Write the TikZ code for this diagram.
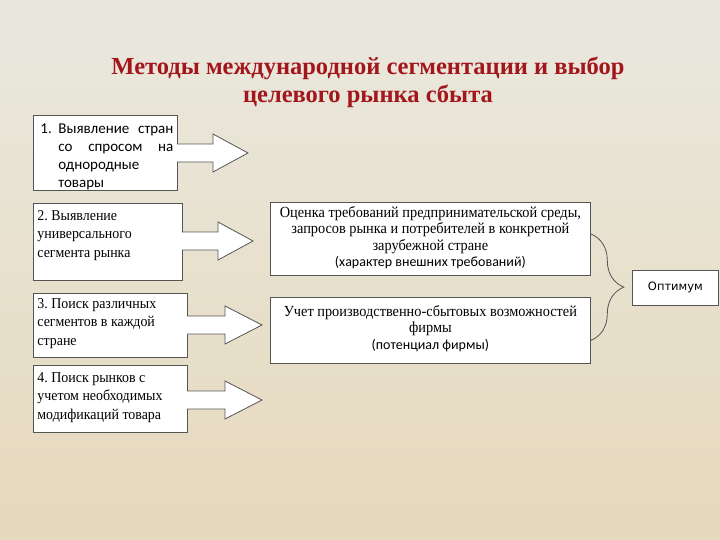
\documentclass[tikz,border=0pt]{standalone}
\usepackage{fontspec}
\setmainfont{Liberation Serif}
\newfontfamily\narrowserif[FakeStretch=0.93]{Liberation Serif}
\newfontfamily\calibfont{Carlito}
\newfontfamily\optfont{DejaVu Sans}
\usetikzlibrary{calc,decorations.pathreplacing}
\definecolor{titlered}{HTML}{A3161C}
\definecolor{bgtop}{HTML}{E9E8DF}
\definecolor{bgmid}{HTML}{F5E7C8}
\definecolor{bgbot}{HTML}{E6D9BC}
\definecolor{framegray}{HTML}{555555}

\begin{document}
\begin{tikzpicture}[x=1pt, y=-1pt]

      \tikzstyle{box_style} = [draw=framegray, fill=white, line width=0.8pt, inner sep=4pt, anchor=north west]
      \tikzstyle{arrow_style} = [draw=framegray, fill=white, line width=0.8pt, line join=miter]
      \tikzstyle{serif_text} = [font=\narrowserif\fontsize{15}{18.5}\selectfont\frenchspacing]

      \shade[top color=bgtop, middle color=bgmid, bottom color=bgbot] (0,0) rectangle (720,540);
      \useasboundingbox (0,0) rectangle (720,540);

      \draw (368,82) node[font=\bfseries\fontsize{24.5}{28}\selectfont, text=titlered, align=center] (title){Методы международной сегментации и выбор\\целевого рынка сбыта};

      \draw
        (33,115) node[box_style] (m1){\parbox[c][67pt][t]{136pt}{\calibfont\fontsize{15}{18}\selectfont\vspace*{4pt}\makebox[21pt][l]{\hspace{3pt}1.}Выявление\hfill стран\\\hspace*{21pt}со\hfill спросом\hfill на\\\hspace*{21pt}однородные\\\hspace*{21pt}товары}}
        (33,203) node[box_style, serif_text] (m2){\parbox[c][69pt][t]{141pt}{\vspace*{3pt}2. Выявление\\универсального\\сегмента рынка}}
        (33,293) node[box_style, serif_text] (m3){\parbox[c][56pt][t]{146pt}{\vspace*{1pt}3. Поиск различных\\сегментов в каждой\\стране}}
        (33,365) node[box_style, serif_text] (m4){\parbox[c][59pt][t]{146pt}{\vspace*{3pt}4. Поиск рынков с\\учетом необходимых\\модификаций товара}}
        (270,202) node[box_style] (r1){\parbox[c][65pt][t]{312pt}{\centering\narrowserif\fontsize{15.4}{16.5}\selectfont Оценка требований  предпринимательской среды,\\запросов рынка и потребителей в конкретной\\зарубежной стране\\{\calibfont\fontsize{14}{16.5}\selectfont (характер внешних требований)}}}
        (270,297) node[box_style] (r2){\parbox[c][58pt][t]{312pt}{\centering\narrowserif\fontsize{15.4}{16.5}\selectfont\vspace*{4pt}Учет производственно-сбытовых возможностей\\фирмы\\{\calibfont\fontsize{14}{16.5}\selectfont (потенциал фирмы)}}}
        (632,270) node[box_style, minimum width=86pt, minimum height=35pt, font=\optfont\fontsize{11.5}{13}\selectfont] (opt){Оптимум};

      % tips of the block arrows
      \coordinate (t1) at (248,153);
      \coordinate (t2) at (253,241);
      \coordinate (t3) at (262,325);
      \coordinate (t4) at (262,400);

      \foreach \m/\t/\hl in {m1/t1/35pt, m2/t2/35pt, m3/t3/37pt, m4/t4/37pt}
        \path[arrow_style] let \p1 = ([xshift=-1pt]\m.east), \p2 = (\t) in
          (\x1,\y2+9pt) -- (\x2-\hl,\y2+9pt) -- (\x2-\hl,\y2+19pt) -- (\x2,\y2)
          -- (\x2-\hl,\y2-19pt) -- (\x2-\hl,\y2-9pt) -- (\x1,\y2-9pt);

      \draw[decorate, decoration={brace, amplitude=33pt}, draw=framegray, line width=0.8pt]
        ([yshift=5pt]r1.east) -- ([yshift=-10pt]r2.east);

    \end{tikzpicture}
\end{document}
